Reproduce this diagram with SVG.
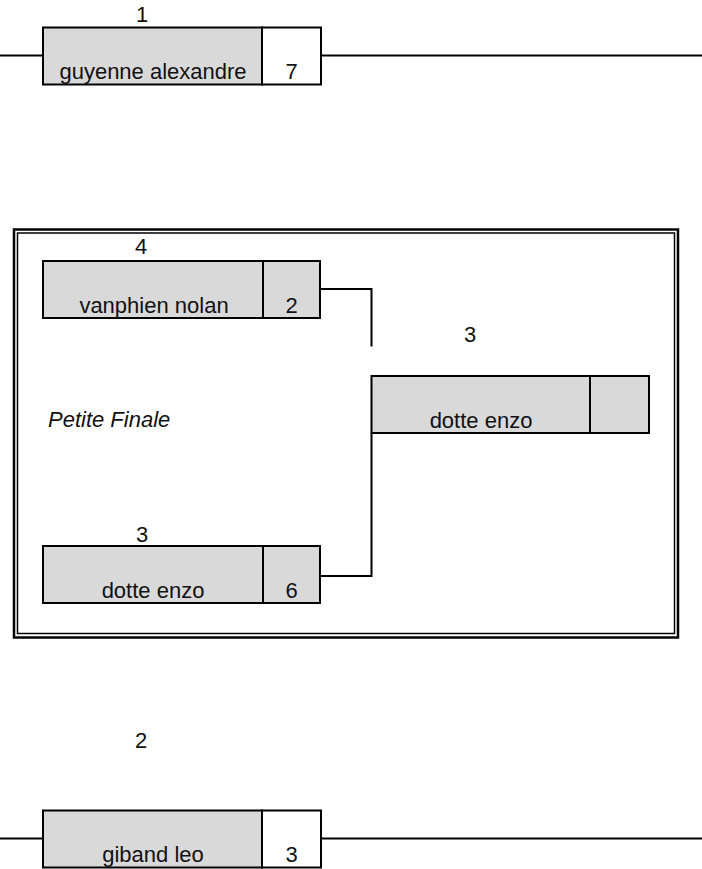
<svg xmlns="http://www.w3.org/2000/svg" width="702" height="869" viewBox="0 0 702 869">
<style>
text{font-family:"Liberation Sans",Arial,sans-serif;font-size:22px;fill:#111}
.m{text-anchor:middle}
.cell{fill:#d9d9d9;stroke:#000;stroke-width:2}
.wcell{fill:#fff;stroke:#000;stroke-width:2}
.ln{fill:none;stroke:#000;stroke-width:2}
</style>
<rect width="702" height="869" fill="#fff"/>
<g id="frame">
<rect x="14" y="229.5" width="664" height="408" fill="none" stroke="#000" stroke-width="2.5"/>
<rect x="17.5" y="233" width="657" height="400.5" fill="none" stroke="#000" stroke-width="1.5"/>
</g>
<g id="connectors">
<path class="ln" d="M0 55.5H43M321 55.5H702"/>
<path class="ln" d="M0 838.5H43M321 838.5H702"/>
<path class="ln" d="M320 289H371.5V346.5"/>
<path class="ln" d="M320 576H371.5V433"/>
</g>
<g id="n-guyenne">
<text class="m" x="142" y="22">1</text>
<rect class="cell" x="43" y="27.5" width="219" height="57"/>
<rect class="wcell" x="262" y="27.5" width="59" height="57"/>
<text class="m" x="153" y="79">guyenne alexandre</text>
<text class="m" x="291.5" y="79">7</text>
</g>
<g id="n-vanphien">
<text class="m" x="141" y="254">4</text>
<rect class="cell" x="43" y="261" width="220" height="57"/>
<rect class="cell" x="263" y="261" width="57" height="57"/>
<text class="m" x="154" y="313">vanphien nolan</text>
<text class="m" x="291.5" y="313">2</text>
</g>
<g id="n-dotte-final">
<text class="m" x="470" y="342">3</text>
<rect class="cell" x="371.5" y="376" width="218.5" height="57"/>
<rect class="cell" x="590" y="376" width="59" height="57"/>
<text class="m" x="481" y="428">dotte enzo</text>
</g>
<g id="label">
<text x="48" y="427" font-style="italic">Petite Finale</text>
</g>
<g id="n-dotte">
<text class="m" x="142" y="542">3</text>
<rect class="cell" x="43" y="546" width="220" height="57"/>
<rect class="cell" x="263" y="546" width="57" height="57"/>
<text class="m" x="153" y="598">dotte enzo</text>
<text class="m" x="291.5" y="598">6</text>
</g>
<g id="n-giband">
<text class="m" x="141" y="748">2</text>
<rect class="cell" x="43" y="810.5" width="219" height="57"/>
<rect class="wcell" x="262" y="810.5" width="59" height="57"/>
<text class="m" x="153" y="862">giband leo</text>
<text class="m" x="291.5" y="862">3</text>
</g>
</svg>
